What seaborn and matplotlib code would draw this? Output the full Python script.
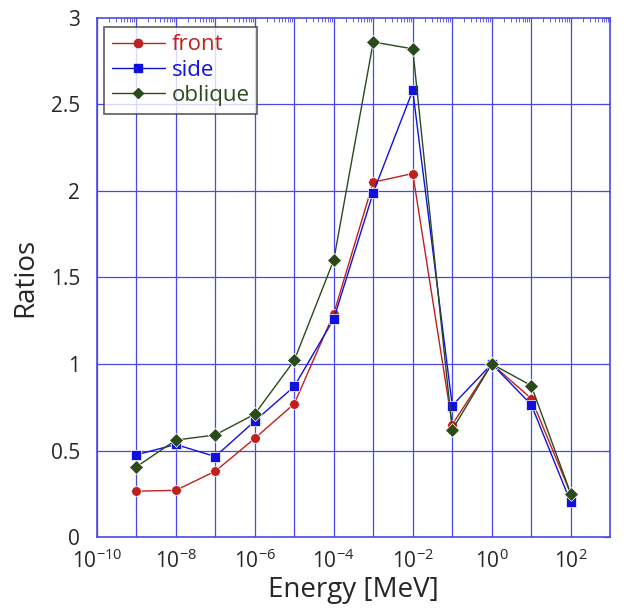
import numpy as np
import pandas as pd
import matplotlib
matplotlib.use("Agg")
import matplotlib.pyplot as plt
import seaborn as sns
from matplotlib.lines import Line2D
from matplotlib.ticker import LogLocator, NullFormatter

energy = [1e-9, 1e-8, 1e-7, 1e-6, 1e-5, 1e-4, 1e-3, 1e-2, 1e-1, 1e0, 1e1, 1e2]
front = [0.265, 0.27, 0.38, 0.57, 0.77, 1.29, 2.05, 2.10, 0.65, 1.0, 0.80, 0.25]
side = [0.475, 0.535, 0.465, 0.67, 0.87, 1.26, 1.99, 2.58, 0.76, 1.0, 0.765, 0.20]
oblique = [0.405, 0.56, 0.59, 0.71, 1.02, 1.60, 2.86, 2.82, 0.62, 1.0, 0.875, 0.25]

series = {"front": front, "side": side, "oblique": oblique}
colors = {"front": "#c0201e", "side": "#1010e0", "oblique": "#2b4a1a"}
markers = {"front": "o", "side": "s", "oblique": "D"}

df = pd.concat(
    [pd.DataFrame({"Energy": energy, "Ratio": v, "case": k}) for k, v in series.items()],
    ignore_index=True,
)

sns.set_style("white")
plt.rcParams["font.family"] = ["Open Sans", "DejaVu Sans"]

fig = plt.figure(figsize=(6.24, 6.11), dpi=100)
ax = fig.add_axes([0.155, 0.121, 0.823, 0.850])

sns.lineplot(
    data=df, x="Energy", y="Ratio", hue="case", style="case",
    palette=colors, markers=markers, dashes=False, linewidth=1.0,
    markersize=7, markeredgewidth=0.5, ax=ax, legend=False,
)

ax.set_xscale("log")
ax.set_xlim(1e-10, 1e3)
ax.set_ylim(0, 3)
ax.set_xticks([1e-10, 1e-8, 1e-6, 1e-4, 1e-2, 1e0, 1e2])
ax.xaxis.set_minor_locator(LogLocator(base=10, subs=np.arange(1, 10), numticks=100))
ax.xaxis.set_minor_formatter(NullFormatter())
ax.set_yticks([0, 0.5, 1, 1.5, 2, 2.5, 3])
ax.set_yticklabels(["0", "0.5", "1", "1.5", "2", "2.5", "3"])

grid_col = "#4848ec"
for d in range(-10, 4):
    ax.axvline(10.0 ** d, color=grid_col, lw=0.9, zorder=0)
for yv in [0.5, 1, 1.5, 2, 2.5]:
    ax.axhline(yv, color=grid_col, lw=0.9, zorder=0)
for s in ax.spines.values():
    s.set_color(grid_col)
    s.set_linewidth(1.2)

ax.tick_params(axis="both", which="both", direction="in", top=True, right=True,
               color=grid_col, labelsize=15)
ax.tick_params(axis="x", which="major", length=5, pad=9)
ax.tick_params(axis="x", which="minor", length=3)
ax.tick_params(axis="y", which="major", length=5, pad=12)

ax.set_xlabel("Energy [MeV]", fontsize=20, labelpad=2)
ax.set_ylabel("Ratios", fontsize=20, labelpad=8)

handles = [Line2D([], [], color=colors[k], marker=markers[k], lw=1.0,
                  markersize=6 if k != "oblique" else 5.5) for k in series]
leg = ax.legend(handles, list(series), loc="upper left", bbox_to_anchor=(0.014, 0.983),
                fontsize=16, frameon=True, fancybox=False, handlelength=2.4,
                handletextpad=0.3, borderpad=0.35, labelspacing=0.2,
                borderaxespad=0.0)
leg.get_frame().set_edgecolor("#333333")
leg.get_frame().set_linewidth(1.2)
for t, k in zip(leg.get_texts(), series):
    t.set_color(colors[k])

fig.savefig("out.png", dpi=100)
